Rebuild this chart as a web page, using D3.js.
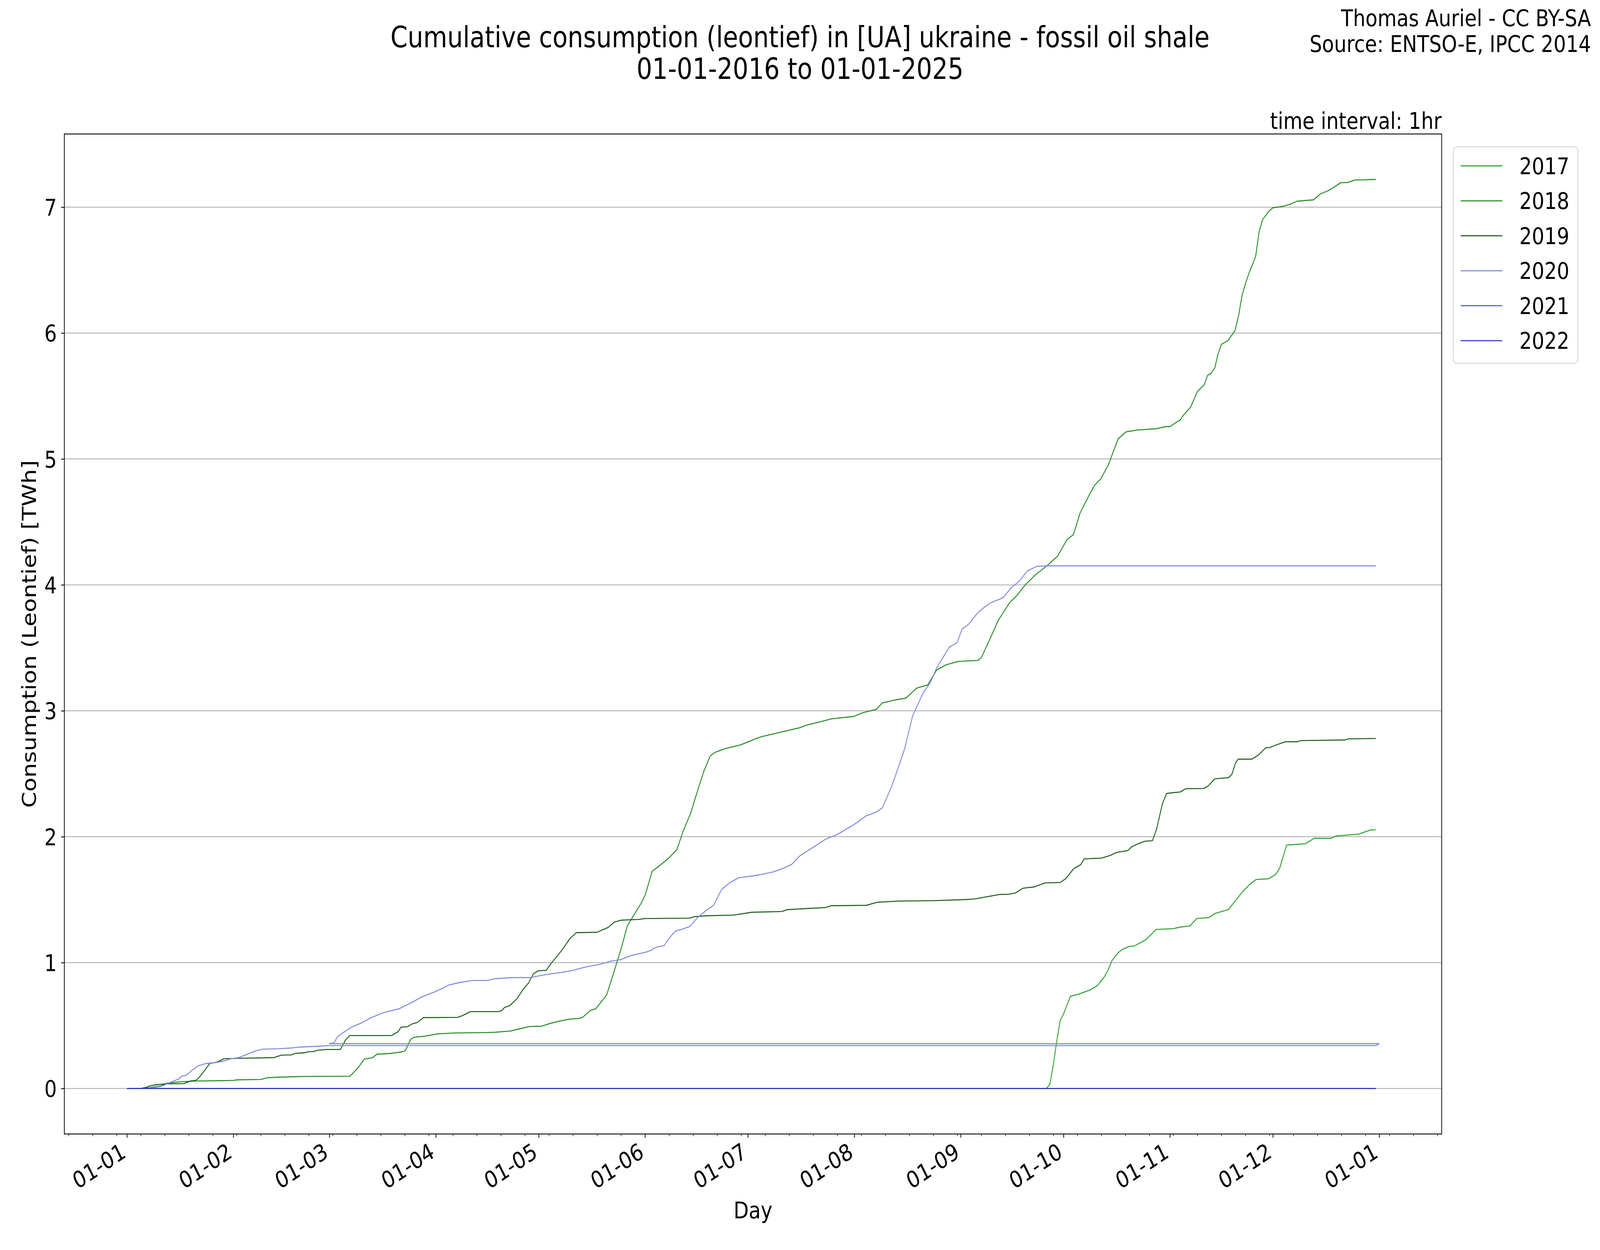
<!DOCTYPE html>
<html><head><meta charset="utf-8">
<script src="https://cdn.jsdelivr.net/npm/d3@7"></script>
<style>
html,body{margin:0;padding:0;background:#fff;overflow:hidden;width:100%;height:100%}
svg{display:block;background:#fff;width:100vw;height:100vh}
text{font-family:"DejaVu Sans",sans-serif;fill:#000}
</style>
</head><body>
<svg id="chart" viewBox="0 0 4800 3200" preserveAspectRatio="none"></svg>
<script>
// ---------------- DATA ----------------
// x values are days since 01-01 of the (common) reference year, in plotting order
const years = ["2017", "2018", "2019", "2020", "2021", "2022"];
const colors = ["#2ca02c", "#228b22", "#1b5e1b", "#7f88e0", "#5060d4", "#2f3bb5"];

const days2017 = [0,268,269,270,270.8,272,272.9,275,277.2,280.8,282.8,284.8,286,287.1,288.9,290.1,292.1,293.7,296.9,300,305,307,309.8,311.8,315.4,317.1,321.1,322.3,325.1,327.2,329.1,332.8,334.8,336,338,343.6,346,350.9,352.5,358.9,360.5,362.6,364];
const vals2017 = [0,0,0.034,0.183,0.338,0.54,0.586,0.733,0.748,0.783,0.817,0.883,0.943,1.015,1.078,1.104,1.128,1.133,1.18,1.263,1.27,1.282,1.291,1.35,1.358,1.39,1.422,1.465,1.56,1.62,1.66,1.666,1.70,1.75,1.933,1.945,1.987,1.987,2.006,2.02,2.035,2.054,2.054];

const days2018 = [0,5,9.8,11.7,15.3,20,27.4,31.2,32,39,40.9,44.2,51.5,65,66,67.4,69.2,71.6,72.9,76.2,79.9,81.1,82.7,83.6,86.9,90.6,95.2,105,107.3,111.9,113.8,117.5,120.8,123.1,125.9,129.2,131.5,132.8,135.1,136.7,139.8,141.7,144,145.9,147.9,150,151.1,153.1,155.1,157.9,160.3,162.1,164.3,166.3,168.2,170,171.4,174.5,178.9,183.2,184.9,191,196,197.9,204,205.3,211.8,214.4,218.5,220.1,223.9,227,230.2,233.4,236,238.7,242.3,248,249,251.7,254,257.3,259.2,262,264.8,268.5,271.3,274,275.9,277.8,280.6,282,283.8,286.1,288.9,291.2,294.5,300,302.8,304,305.8,307,308,310,312,314,315,316,317.1,318,319,320.9,323,324.1,325,326.1,327.1,328.1,329,330,331,332.8,334,337,339,341,343.9,345.9,347.9,350.1,351.9,353.8,356,357.8,364];
const vals2018 = [0,0,0.02,0.043,0.053,0.06,0.062,0.065,0.069,0.072,0.086,0.09,0.096,0.098,0.125,0.167,0.234,0.245,0.273,0.277,0.29,0.299,0.39,0.407,0.416,0.434,0.441,0.445,0.447,0.457,0.47,0.493,0.495,0.515,0.535,0.552,0.555,0.565,0.62,0.635,0.742,0.903,1.108,1.295,1.384,1.477,1.54,1.726,1.767,1.829,1.897,2.043,2.186,2.364,2.524,2.64,2.67,2.70,2.73,2.777,2.794,2.833,2.865,2.884,2.926,2.936,2.955,2.984,3.012,3.062,3.086,3.10,3.18,3.205,3.323,3.365,3.392,3.40,3.42,3.58,3.72,3.86,3.91,4.005,4.08,4.16,4.23,4.36,4.40,4.57,4.72,4.79,4.84,4.955,5.16,5.215,5.23,5.24,5.257,5.257,5.29,5.31,5.35,5.41,5.535,5.59,5.665,5.68,5.725,5.83,5.91,5.94,6.02,6.15,6.295,6.40,6.48,6.545,6.61,6.805,6.90,6.966,6.995,7.006,7.023,7.047,7.054,7.058,7.106,7.13,7.16,7.194,7.196,7.215,7.22];

const days2019 = [0,4,5.6,7,8.8,11.2,16.7,17.2,18.6,20,20.9,22.8,24.2,25.6,26.5,28.3,33.9,42.7,45,47.9,49.2,51.6,53,54.4,55.3,58.1,62.2,63.7,65,77.1,79,79.9,81.7,83.2,84.6,86.4,96.4,97.8,100.1,108.3,109.2,110.1,111.5,113.6,115.7,117.1,118.5,119.9,122.2,123.6,126.8,129.1,131,137,140.3,142.1,144,149.1,151,164,165.4,169,177,182.1,190.9,192.3,197,203.5,205.3,215.5,218.8,225.3,234.9,243.9,247,250,254.3,257.1,259.1,261.1,262.3,264.3,267.6,272,273.6,276,278,279,284,286.5,288.4,291.7,292.9,294.9,296.9,298.9,300.1,301.8,303,305,307,308.6,313.9,315.1,317.1,321.1,322.1,323.1,323.9,327.9,329.9,331.9,333.2,334.8,337.6,341.2,342,354.9,356.1,364];
const vals2019 = [0,0,0.01,0.023,0.031,0.037,0.039,0.047,0.06,0.064,0.083,0.15,0.20,0.206,0.213,0.237,0.241,0.245,0.265,0.267,0.28,0.283,0.293,0.293,0.303,0.31,0.31,0.385,0.421,0.421,0.45,0.488,0.49,0.514,0.524,0.563,0.565,0.579,0.611,0.611,0.618,0.645,0.657,0.71,0.796,0.84,0.912,0.935,0.939,0.992,1.10,1.19,1.238,1.241,1.28,1.322,1.337,1.343,1.35,1.353,1.365,1.372,1.378,1.40,1.406,1.42,1.428,1.437,1.452,1.455,1.48,1.489,1.492,1.50,1.505,1.52,1.541,1.543,1.554,1.59,1.595,1.60,1.633,1.636,1.666,1.747,1.778,1.824,1.83,1.85,1.875,1.89,1.92,1.946,1.965,1.968,2.058,2.26,2.343,2.35,2.355,2.381,2.383,2.402,2.46,2.469,2.497,2.585,2.616,2.616,2.651,2.706,2.709,2.727,2.754,2.754,2.763,2.768,2.777,2.78];

// 2020 is a leap year: its 29 February lands at the end of the reference year
const days2020 = [0,6,9.8,11.2,13,14.9,16.1,17.2,19,20.9,23.2,25.6,28.3,30.2,32.5,34.4,37.6,39.5,44.1,47.9,50.2,55.3,58.96,364,364.96,59,60.4,61.3,62.7,65.5,68.3,71.1,74.8,79.4,83.2,85.9,89.5,92,93.8,96.6,100.8,105,107.3,112,117.5,121.7,126.4,130.1,132.9,135.2,138,140.8,144,146.8,149.1,151,152.8,154.2,156.6,157.9,159.8,161.6,164,166.3,169.1,171,173.3,175.6,178.3,182.1,185.8,188.6,191.4,193.7,196,199.8,203.5,207.2,211.8,215.5,218.3,220.2,222.9,225.3,226.7,229,230.4,232.2,234.1,236,239.7,242,243.4,245.2,248,249.9,251.7,255.4,257.8,260.1,262.4,265.2,267.5,364];
const vals2020 = [0,0,0.016,0.031,0.053,0.073,0.10,0.103,0.146,0.182,0.20,0.205,0.218,0.236,0.245,0.265,0.30,0.312,0.316,0.322,0.329,0.335,0.341,0.341,0.356,0.356,0.363,0.41,0.438,0.488,0.52,0.562,0.603,0.634,0.686,0.727,0.765,0.796,0.822,0.84,0.858,0.858,0.872,0.881,0.881,0.903,0.921,0.939,0.96,0.974,0.987,1.01,1.024,1.055,1.07,1.081,1.098,1.122,1.135,1.188,1.25,1.264,1.286,1.357,1.42,1.455,1.58,1.633,1.674,1.687,1.705,1.722,1.75,1.779,1.845,1.912,1.978,2.02,2.094,2.166,2.194,2.229,2.40,2.586,2.70,2.96,3.043,3.15,3.22,3.34,3.506,3.542,3.649,3.684,3.779,3.822,3.857,3.898,3.98,4.028,4.111,4.147,4.151,4.151];

const days2021 = [0,364];
const vals2021 = [0,0];
const days2022 = [0,364];
const vals2022 = [0,0];

const yTickValues = [0,1,2,3,4,5,6,7];
const titleLines = ["Cumulative consumption (leontief) in [UA] ukraine - fossil oil shale", "01-01-2016 to 01-01-2025"];
const creditLines = ["Thomas Auriel - CC BY-SA", "Source: ENTSO-E, IPCC 2014"];
const intervalLabel = "time interval: 1hr";
const xLabel = "Day";
const yLabel = "Consumption (Leontief) [TWh]";

// ---------------- CHART ----------------
const seriesDays = [days2017, days2018, days2019, days2020, days2021, days2022];
const seriesVals = [vals2017, vals2018, vals2019, vals2020, vals2021, vals2022];
const refStart = Date.UTC(2025, 0, 1);
const toDate = d => new Date(refStart + d * 86400000);

const series = years.map((y, i) => ({
  name: y, color: colors[i],
  pts: seriesDays[i].map((d, j) => [toDate(d), seriesVals[i][j]])
}));

const W = 4800, H = 3200;
const M = {left: 193, right: 4325, top: 343, bottom: 2903};
const svg = d3.select("#chart");

const allDays = seriesDays.flat(), allVals = seriesVals.flat();
const dMin = d3.min(allDays), dMax = d3.max(allDays);
const vMin = d3.min(allVals), vMax = d3.max(allVals);
const dPad = (dMax - dMin) * 0.05, vPad = (vMax - vMin) * 0.05;

const x = d3.scaleUtc().domain([toDate(dMin - dPad), toDate(dMax + dPad)]).range([M.left, M.right]);
const y = d3.scaleLinear().domain([vMin - vPad, vMax + vPad]).range([M.bottom, M.top]);

const FS = 59;

// grid
svg.append("g").selectAll("line").data(yTickValues).join("line")
  .attr("x1", M.left).attr("x2", M.right)
  .attr("y1", d => y(d)).attr("y2", d => y(d))
  .attr("stroke", "#b0b0b0").attr("stroke-width", 2.2);

// lines
const line = d3.line().x(d => x(d[0])).y(d => y(d[1]));
const clipId = "plotclip";
svg.append("clipPath").attr("id", clipId).append("rect")
  .attr("x", M.left).attr("y", M.top).attr("width", M.right - M.left).attr("height", M.bottom - M.top);
svg.append("g").attr("clip-path", `url(#${clipId})`).selectAll("path").data(series).join("path")
  .attr("d", d => line(d.pts))
  .attr("fill", "none").attr("stroke", d => d.color)
  .attr("stroke-width", 2.6).attr("stroke-linejoin", "round");

// x axis
const monthTicks = d3.utcMonth.range(x.domain()[0], x.domain()[1]);
const weekTicks = d3.utcSunday.range(x.domain()[0], x.domain()[1]);
const xMinor = svg.append("g").attr("transform", `translate(0,${M.bottom})`)
  .call(d3.axisBottom(x).tickValues(weekTicks).tickSize(5.5).tickFormat(""));
xMinor.select(".domain").remove();
xMinor.selectAll("line").attr("stroke", "#000").attr("stroke-width", 1.6);

const xAxis = svg.append("g").attr("transform", `translate(0,${M.bottom})`)
  .call(d3.axisBottom(x).tickValues(monthTicks).tickSize(9.5).tickFormat(d3.utcFormat("%d-%m")));
xAxis.select(".domain").remove();
xAxis.selectAll("line").attr("stroke", "#000").attr("stroke-width", 2.2);
xAxis.selectAll("text")
  .attr("x", 0).attr("y", 0).attr("dy", null)
  .attr("text-anchor", "end")
  .attr("transform", "translate(0,57) rotate(-30)")
  .style("font-size", FS + "px").style("font-family", '"DejaVu Sans"').attr("fill", "#000");

// y axis
const yAxis = svg.append("g").attr("transform", `translate(${M.left},0)`)
  .call(d3.axisLeft(y).tickValues(yTickValues).tickSize(9.5).tickPadding(13).tickFormat(d3.format("d")));
yAxis.select(".domain").remove();
yAxis.selectAll("line").attr("stroke", "#000").attr("stroke-width", 2.2);
yAxis.selectAll("text").attr("dy", "0.36em")
  .style("font-size", FS + "px").style("font-family", '"DejaVu Sans"').attr("fill", "#000");

// frame
svg.append("rect").attr("x", M.left).attr("y", M.top)
  .attr("width", M.right - M.left).attr("height", M.bottom - M.top)
  .attr("fill", "none").attr("stroke", "#000").attr("stroke-width", 2.2);

// texts
svg.append("g").selectAll("text").data(titleLines).join("text")
  .attr("x", W / 2).attr("y", (d, i) => [121, 202][i])
  .attr("text-anchor", "middle").style("font-size", "74px").text(d => d);
svg.append("g").selectAll("text").data(creditLines).join("text")
  .attr("x", 4773).attr("y", (d, i) => [67, 133][i])
  .attr("text-anchor", "end").style("font-size", FS + "px").text(d => d);
svg.append("text").attr("x", M.right).attr("y", 330)
  .attr("text-anchor", "end").style("font-size", FS + "px").text(intervalLabel);
svg.append("text").attr("x", (M.left + M.right) / 2).attr("y", 3119)
  .attr("text-anchor", "middle").style("font-size", FS + "px").text(xLabel);
svg.append("text").attr("transform", `translate(108,${(M.top + M.bottom) / 2}) rotate(-90)`)
  .attr("text-anchor", "middle").style("font-size", FS + "px").text(yLabel);

// legend
const lg = svg.append("g");
lg.append("rect").attr("x", 4360).attr("y", 376).attr("width", 374).attr("height", 554)
  .attr("rx", 11).attr("fill", "#fff").attr("stroke", "#d6d6d6").attr("stroke-width", 2.5);
const items = lg.selectAll("g.item").data(series).join("g").attr("class", "item")
  .attr("transform", (d, i) => `translate(0,${424.6 + i * 89.5})`);
items.append("line").attr("x1", 4382).attr("x2", 4507)
  .attr("stroke", d => d.color).attr("stroke-width", 2.6);
items.append("text").attr("x", 4558).attr("y", 0).attr("dy", "0.36em")
  .style("font-size", FS + "px").text(d => d.name);
</script>
</body></html>
